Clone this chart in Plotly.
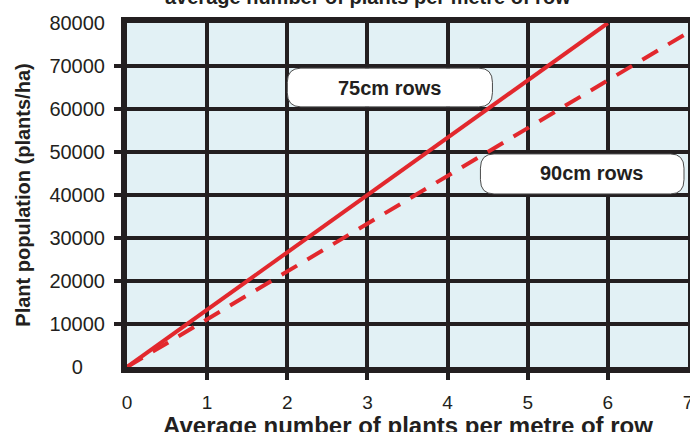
import plotly.graph_objects as go

# Data
plants_per_m_75 = [0, 1, 2, 3, 4, 5, 6]
population_75 = [0, 13333, 26667, 40000, 53333, 66667, 80000]
plants_per_m_90 = [0, 1, 2, 3, 4, 5, 6, 7]
population_90 = [0, 11111, 22222, 33333, 44444, 55556, 66667, 77778]

x_ticks = [0, 1, 2, 3, 4, 5, 6, 7]
y_ticks = [0, 10000, 20000, 30000, 40000, 50000, 60000, 70000, 80000]
y_tick_text = ["0\u00a0\u00a0\u00a0\u00a0", "10000", "20000", "30000", "40000",
               "50000", "60000", "70000", "80000"]
x_marked = [1, 2, 3, 4, 5, 6]
y_marked = [10000, 20000, 30000, 40000, 50000, 60000, 70000]

RED = "#e2282d"
INK = "#231f20"
FONT = "Liberation Sans, Arial, Helvetica, sans-serif"

fig = go.Figure()
fig.add_trace(go.Scatter(x=plants_per_m_90, y=population_90, mode="lines",
                         line=dict(color=RED, width=4, dash="18px,12px"),
                         showlegend=False, hoverinfo="skip"))
fig.add_trace(go.Scatter(x=plants_per_m_75, y=population_75, mode="lines",
                         line=dict(color=RED, width=4),
                         showlegend=False, hoverinfo="skip"))
# invisible trace for tick-mark axes
fig.add_trace(go.Scatter(x=[0], y=[0], xaxis="x2", yaxis="y2", mode="markers",
                         marker=dict(opacity=0), showlegend=False, hoverinfo="skip"))


def rounded_box(x0, x1, y0, y1, rx, ry):
    return (f"M {x0+rx},{y1} L {x1-rx},{y1} Q {x1},{y1} {x1},{y1-ry} "
            f"L {x1},{y0+ry} Q {x1},{y0} {x1-rx},{y0} "
            f"L {x0+rx},{y0} Q {x0},{y0} {x0},{y0+ry} "
            f"L {x0},{y1-ry} Q {x0},{y1} {x0+rx},{y1} Z")


labels = [
    dict(text="75cm rows", box=(2.0, 4.56, 60500, 69500), tx=3.28, ty=64900),
    dict(text="90cm rows", box=(4.41, 6.95, 40250, 49550), tx=5.8, ty=45100),
]
rx, ry = 0.17, 3300
for lb in labels:
    x0, x1, y0, y1 = lb["box"]
    fig.add_shape(type="path", path=rounded_box(x0, x1, y0, y1, rx, ry),
                  xref="x", yref="y", fillcolor="white",
                  line=dict(color="#4a4a4a", width=1), layer="above")
    fig.add_annotation(x=lb["tx"], y=lb["ty"], xref="x", yref="y", text=f"<b>{lb['text']}</b>",
                       showarrow=False, font=dict(family=FONT, size=20, color=INK))

# partially visible title at the very top
fig.add_annotation(x=0.43, y=1.077, xref="paper", yref="paper",
                   text="<b>average number of plants per metre of row</b>",
                   showarrow=False, xanchor="center", yanchor="middle",
                   font=dict(family=FONT, size=20, color=INK))

# x-axis title (partly cut off at the bottom edge, as in the source)
fig.add_annotation(x=0.5, y=-0.169, xref="paper", yref="paper",
                   text="<b>Average number of plants per metre of row</b>",
                   showarrow=False, xanchor="center", yanchor="middle",
                   font=dict(family=FONT, size=24, color=INK))

fig.update_layout(
    width=690, height=432,
    margin=dict(l=127, r=2, t=23, b=65),
    paper_bgcolor="white",
    plot_bgcolor="#e2f1f5",
    font=dict(family=FONT, color=INK),
    xaxis=dict(range=[0, 7], tickvals=x_ticks, ticks="", showgrid=True,
               gridcolor=INK, gridwidth=4, zeroline=False, automargin=False,
               showline=True, linecolor=INK, linewidth=6, mirror=True,
               tickfont=dict(size=19, color=INK), ticklabelstandoff=13,
               ticklabeloverflow="allow"),
    yaxis=dict(range=[0, 80000], tickvals=y_ticks, ticktext=y_tick_text, ticks="",
               showgrid=True, gridcolor=INK, gridwidth=4, zeroline=False, automargin=False,
               showline=True, linecolor=INK, linewidth=6, mirror=True,
               tickfont=dict(size=20, color=INK), ticklabelstandoff=12,
               title=dict(text="<b>Plant population (plants/ha)</b>",
                          font=dict(size=20, color=INK), standoff=15)),
    xaxis2=dict(overlaying="x", matches="x", side="bottom", tickvals=x_marked,
                ticks="outside", ticklen=12, tickwidth=4, tickcolor=INK, automargin=False,
                showticklabels=False, showgrid=False, zeroline=False, showline=False),
    yaxis2=dict(overlaying="y", matches="y", side="left", tickvals=y_marked,
                ticks="outside", ticklen=12, tickwidth=4, tickcolor=INK, automargin=False,
                showticklabels=False, showgrid=False, zeroline=False, showline=False),
)

fig.write_html("out.html", config={"displayModeBar": False},
               post_script="document.body.style.margin='0';document.body.style.overflow='hidden';")
